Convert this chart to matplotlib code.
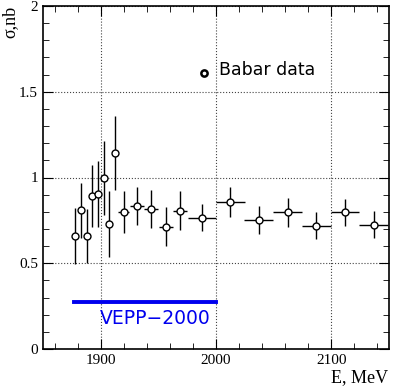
import numpy as np
import matplotlib.pyplot as plt
from matplotlib.ticker import MultipleLocator

# cross section data
energy = [1877.8, 1882.7, 1887.9, 1892.8, 1897.7, 1902.6, 1907.5, 1912.7,
          1920.0, 1931.3, 1943.7, 1956.4, 1968.8, 1987.6,
          2012.5, 2037.0, 2062.2, 2087.0, 2111.9, 2136.8]
energy_err = [0, 0, 0, 0, 0, 0, 0, 0,
              5, 6, 6.4, 6, 6.3, 12.3,
              12.4, 12.4, 12.4, 12.3, 12.4, 12.4]
sigma = [0.659, 0.81, 0.659, 0.892, 0.904, 0.999, 0.729, 1.141,
         0.80, 0.834, 0.818, 0.713, 0.806, 0.766,
         0.857, 0.752, 0.797, 0.719, 0.797, 0.725]
sigma_err = [0.166, 0.16, 0.156, 0.18, 0.19, 0.215, 0.19, 0.215,
             0.124, 0.11, 0.112, 0.113, 0.114, 0.08,
             0.086, 0.083, 0.083, 0.077, 0.08, 0.078]

vepp_range = [1877, 2000]
vepp_level = 0.272

fig = plt.figure(figsize=(3.95, 3.89), dpi=100)
ax = fig.add_axes([43/395, 40/389, 346/395, 343/389])

ax.errorbar(energy, sigma, xerr=energy_err, yerr=sigma_err, fmt='o',
            color='black', mfc='white', mec='black', ms=5, mew=1,
            elinewidth=1, capsize=0, zorder=3)

# legend marker + text
ax.plot([1989.6], [1.61], 'o', mfc='white', mec='black', ms=4.5, mew=1.8)
ax.text(2003, 1.625, 'Babar data', fontsize=12.5, va='center', ha='left')

# VEPP-2000 energy range
ax.plot(vepp_range, [vepp_level, vepp_level], color='#0000ee', lw=2.8)
ax.text(1899, 0.18, 'VEPP\u22122000', fontsize=13.5, color='#0000ee',
        va='center', ha='left')

ax.set_xlim(1850, 2150)
ax.set_ylim(0, 2)
ax.xaxis.set_major_locator(MultipleLocator(100))
ax.xaxis.set_minor_locator(MultipleLocator(20))
ax.yaxis.set_major_locator(MultipleLocator(0.5))
ax.yaxis.set_minor_locator(MultipleLocator(0.1))
ax.set_yticks([0, 0.5, 1, 1.5, 2])
ax.set_yticklabels(['0', '0.5', '1', '1.5', '2'])
ax.tick_params(which='both', direction='in', top=True, right=True,
               labelsize=11)
ax.tick_params(which='major', length=7)
ax.tick_params(which='minor', length=4)
for lab in ax.get_xticklabels() + ax.get_yticklabels():
    lab.set_fontfamily('Liberation Serif')
ax.grid(True, which='major', linestyle=':', color='#444444', lw=0.8)
for s in ax.spines.values():
    s.set_linewidth(1.2)

fig.text(388/395, 1 - 378/389, 'E, MeV', ha='right', va='center',
         fontsize=13, family='Liberation Serif')
fig.text(10/395, 1 - 22/389, '\u03c3,nb', ha='center', va='center',
         rotation=90, fontsize=13, family='Liberation Serif')

fig.savefig('out.png', dpi=100)
